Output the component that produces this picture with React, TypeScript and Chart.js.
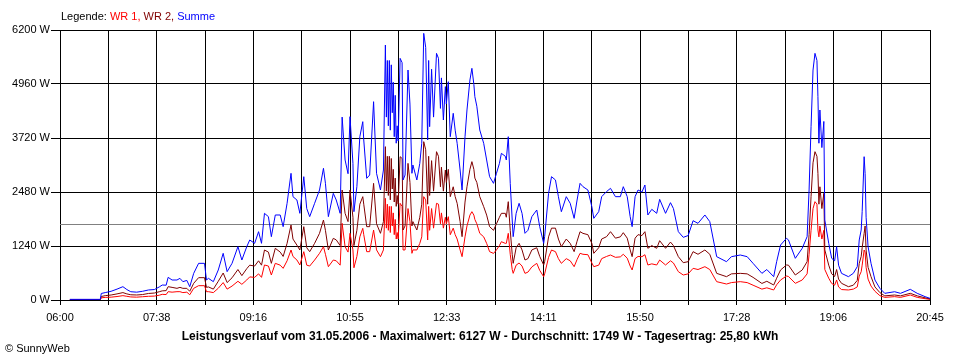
import React, { useEffect, useRef } from "react";
import { Chart, registerables } from "chart.js";

Chart.register(...registerables);

// minutes after 06:00
const sampleMinutes = [
  10, 41, 42, 46, 52, 58, 64, 68, 72, 78,
  84, 90, 96, 101, 104, 108, 110, 114, 119, 122,
  125, 129, 132, 136, 141, 147, 149, 151, 156, 161,
  166, 170, 175, 181, 185, 190, 193, 198, 202, 205,
  208, 212, 215, 219, 224, 227, 231, 235, 237, 241,
  244, 248, 251, 254, 259, 264, 268, 270, 273, 278,
  281, 285, 287, 290, 293, 295, 298, 299, 302, 305,
  308, 309, 312, 315, 319, 322, 326, 329, 331, 332,
  333, 334, 335, 336, 337, 338, 339, 340, 341, 342,
  343, 344, 346, 348, 349, 351, 354, 356, 358, 359,
  363, 366, 368, 370, 372, 374, 375, 376, 378, 380,
  383, 385, 387, 388, 390, 392, 393, 395, 397, 400,
  402, 404, 407, 409, 412, 414, 417, 419, 421, 422,
  424, 427, 431, 434, 437, 441, 444, 447, 449, 453,
  454, 456, 458, 460, 461, 464, 467, 470, 473, 476,
  480, 485, 488, 492, 493, 497, 500, 504, 507, 510,
  515, 519, 523, 526, 529, 532, 537, 541, 543, 548,
  551, 556, 560, 565, 570, 573, 577, 580, 582, 585,
  588, 592, 595, 598, 602, 607, 610, 616, 621, 624,
  629, 634, 639, 644, 649, 656, 661, 668, 678, 683,
  692, 699, 705, 714, 719, 726, 729, 733, 739, 741,
  748, 755, 760, 762, 764, 766, 768, 770, 771, 772,
  773, 775, 777, 778, 782, 785, 788, 790, 792, 795,
  802, 807, 811, 813, 815, 816, 818, 819, 820, 822,
  825, 829, 834, 839, 849, 855, 865, 872, 880, 885,
];

const summeW = [
  15, 15, 150, 170, 200, 250, 306, 240, 190, 180,
  200, 230, 240, 300, 344, 340, 520, 459, 459, 497,
  421, 450, 306, 612, 842, 842, 459, 497, 421, 689,
  1072, 651, 842, 1225, 918, 1225, 1378, 1301, 1569, 1301,
  1990, 1914, 1454, 1952, 1952, 1684, 2220, 2909, 2373, 2296,
  1990, 2832, 2100, 1914, 2220, 2526, 3024, 2680, 1914, 2449,
  2296, 1990, 4200, 3215, 2900, 4210, 3138, 2028, 2602, 3750,
  4095, 3674, 2794, 2870, 4554, 2909, 2526, 2985, 5855, 4200,
  5500, 4000, 5500, 3900, 5400, 4300, 5000, 3750, 4700, 3600,
  4000, 3650, 5549, 5450, 2756, 2870, 5281, 4500, 2909, 3100,
  2756, 3138, 3600, 6123, 5800, 3674, 5500, 3980, 5300, 4200,
  5664, 5550, 4400, 5100, 4133, 4900, 4500, 5013, 3750, 4287,
  3900, 3598, 2985, 2526, 3750, 4363, 5052, 5320, 4950, 4669,
  4450, 3904, 3598, 3215, 2832, 2679, 2909, 3138, 3368, 3300,
  3215, 3750, 2679, 1837, 1454, 1990, 2220, 1990, 1531, 1600,
  1914, 2067, 1684, 1301, 1454, 2449, 2832, 2756, 2373, 2028,
  2373, 2220, 1875, 2296, 2679, 2602, 2526, 2143, 1875, 2028,
  2373, 2490, 2564, 2373, 2373, 2602, 2373, 1914, 1684, 2373,
  2526, 2480, 2641, 1952, 2082, 1990, 2312, 1990, 2235, 2100,
  1569, 1439, 1480, 1821, 1760, 1952, 1800, 995, 880, 995,
  1033, 995, 842, 612, 700, 536, 880, 1263, 1416, 1380,
  957, 1187, 1454, 2526, 3980, 5281, 5664, 5500, 4669, 3600,
  4363, 3500, 4100, 1837, 1301, 957, 900, 1225, 800, 612,
  536, 612, 765, 1378, 1607, 2028, 3291, 2900, 1900, 1225,
  842, 459, 268, 153, 190, 153, 245, 153, 77, 38,
];

const wr2W = [
  8, 8, 80, 100, 115, 140, 170, 140, 120, 115,
  125, 150, 160, 190, 210, 215, 306, 290, 268, 290,
  268, 268, 200, 383, 513, 513, 290, 300, 250, 430,
  620, 400, 510, 700, 560, 720, 800, 780, 900, 800,
  1148, 1100, 842, 1187, 1100, 1000, 1301, 1722, 1400, 1260,
  1148, 1684, 1200, 1110, 1301, 1531, 1837, 1600, 1148, 1416,
  1380, 1250, 2526, 1990, 1800, 2526, 1900, 1250, 1600, 2200,
  2373, 2200, 1684, 1684, 2679, 1750, 1531, 1800, 3521, 2500,
  3300, 2400, 3300, 2300, 3250, 2550, 3000, 2250, 2800, 2150,
  2400, 2200, 3291, 3250, 1607, 1700, 3138, 2700, 1700, 1800,
  1607, 1900, 2200, 3636, 3450, 2200, 3300, 2400, 3200, 2500,
  3406, 3300, 2600, 3050, 2500, 2985, 2700, 3000, 2373, 2600,
  2373, 2220, 1800, 1454, 2250, 2600, 3000, 3177, 3000, 2800,
  2700, 2373, 2143, 1950, 1684, 1600, 1750, 1900, 1990, 1990,
  1900, 2258, 1600, 1050, 842, 1200, 1301, 1150, 918, 950,
  1150, 1200, 1000, 804, 880, 1450, 1650, 1650, 1400, 1225,
  1400, 1300, 1110, 1350, 1569, 1530, 1500, 1300, 1072, 1200,
  1400, 1454, 1569, 1420, 1450, 1546, 1420, 1150, 995, 1420,
  1500, 1480, 1569, 1187, 1250, 1187, 1362, 1187, 1330, 1250,
  995, 857, 880, 1110, 1050, 1148, 1050, 612, 536, 600,
  612, 600, 520, 380, 430, 344, 500, 689, 804, 800,
  574, 689, 880, 1500, 2373, 3150, 3406, 3300, 2909, 2200,
  2600, 2100, 2450, 1150, 800, 600, 540, 700, 480, 383,
  306, 340, 450, 842, 1000, 1200, 1531, 1700, 1150, 750,
  536, 300, 170, 95, 115, 95, 153, 95, 50, 25,
];

const wr1W = [
  5, 5, 50, 60, 65, 80, 100, 85, 70, 65,
  75, 85, 90, 110, 130, 125, 191, 180, 191, 191,
  170, 180, 120, 268, 329, 329, 191, 191, 170, 270,
  400, 250, 320, 430, 360, 460, 530, 520, 600, 520,
  804, 780, 574, 842, 800, 727, 900, 1148, 1000, 918,
  804, 1110, 800, 780, 918, 1072, 1225, 1050, 765, 918,
  900, 800, 1760, 1225, 1100, 1531, 1150, 740, 1000, 1450,
  1646, 1500, 1110, 1110, 1607, 1150, 995, 1150, 2334, 1650,
  2200, 1600, 2150, 1550, 2150, 1700, 2000, 1500, 1850, 1400,
  1550, 1400, 2220, 2150, 1148, 1150, 2100, 1800, 1072, 1150,
  1148, 1300, 1450, 2373, 2300, 1378, 2150, 1600, 2100, 1650,
  2220, 2200, 1750, 2000, 1650, 1900, 1750, 1914, 1500, 1650,
  1500, 1400, 1150, 995, 1450, 1700, 1950, 2028, 1950, 1850,
  1750, 1531, 1450, 1300, 1110, 1070, 1150, 1250, 1339, 1300,
  1300, 1531, 1050, 700, 612, 800, 850, 780, 612, 640,
  760, 842, 680, 536, 600, 980, 1148, 1110, 950, 842,
  950, 900, 765, 930, 1072, 1050, 1040, 850, 765, 800,
  950, 1000, 1033, 980, 990, 1050, 960, 780, 689, 950,
  1000, 995, 1040, 804, 830, 804, 918, 804, 900, 850,
  651, 574, 600, 727, 700, 765, 700, 421, 367, 400,
  421, 400, 340, 250, 280, 230, 350, 459, 551, 540,
  383, 459, 600, 1050, 1600, 2100, 2258, 2200, 1607, 1450,
  1700, 1400, 1600, 700, 500, 380, 340, 460, 300, 240,
  230, 250, 300, 550, 650, 800, 1148, 1100, 750, 480,
  320, 200, 100, 60, 77, 60, 115, 60, 30, 15,
];

const xTickLabels = ["06:00", "07:38", "09:16", "10:55", "12:33", "14:11", "15:50", "17:28", "19:06", "20:45"];
const yMax = 6200;
const yStep = 1240;
const xSpanMinutes = 885;
const averageW = 1749;
const titleText =
  "Leistungsverlauf vom 31.05.2006 - Maximalwert: 6127 W - Durchschnitt: 1749 W - Tagesertrag: 25,80 kWh";
const copyrightText = "\u00A9 SunnyWeb";
const legendParts: [string, string][] = [
  ["Legende: ", "#000000"],
  ["WR 1, ", "#FF0000"],
  ["WR 2, ", "#800000"],
  ["Summe", "#0000FF"],
];

const FONT = '"Liberation Sans", Arial, sans-serif';

const toPoints = (vals: number[]) => vals.map((v, i) => ({ x: sampleMinutes[i], y: v }));

const overlayPlugin = {
  id: "overlay",
  beforeDatasetsDraw(chart: any) {
    const { ctx, chartArea, scales } = chart;
    const y = Math.round(scales.y.getPixelForValue(averageW)) + 0.5;
    ctx.save();
    ctx.strokeStyle = "#808080";
    ctx.lineWidth = 1;
    ctx.beginPath();
    ctx.moveTo(chartArea.left, y);
    ctx.lineTo(chartArea.right, y);
    ctx.stroke();
    ctx.restore();
  },
  afterDraw(chart: any) {
    const { ctx } = chart;
    ctx.save();
    ctx.textBaseline = "middle";
    ctx.font = `11px ${FONT}`;
    let x = 61;
    for (const [text, color] of legendParts) {
      ctx.fillStyle = color;
      ctx.textAlign = "left";
      ctx.fillText(text, x, 17);
      x += ctx.measureText(text).width;
    }
    ctx.fillStyle = "#000";
    ctx.font = `bold 12px ${FONT}`;
    ctx.textAlign = "center";
    ctx.fillText(titleText, 480, 337);
    ctx.font = `11px ${FONT}`;
    ctx.textAlign = "left";
    ctx.fillText(copyrightText, 5, 349);
    ctx.restore();
  },
};

export default function App() {
  const ref = useRef<HTMLCanvasElement | null>(null);

  useEffect(() => {
    document.body.style.margin = "0";
    const canvas = ref.current;
    if (!canvas) return;
    const chart = new Chart(canvas, {
      type: "line",
      data: {
        datasets: [
          {
            label: "Summe",
            data: toPoints(summeW),
            borderColor: "#0000FF",
            borderWidth: 1,
            pointRadius: 0,
            tension: 0,
            order: 0,
          },
          {
            label: "WR 2",
            data: toPoints(wr2W),
            borderColor: "#800000",
            borderWidth: 1,
            pointRadius: 0,
            tension: 0,
            order: 1,
          },
          {
            label: "WR 1",
            data: toPoints(wr1W),
            borderColor: "#FF0000",
            borderWidth: 1,
            pointRadius: 0,
            tension: 0,
            order: 2,
          },
        ],
      },
      options: {
        animation: false,
        responsive: false,
        devicePixelRatio: 1,
        layout: { padding: { top: 30, right: 30, left: 0, bottom: 0 } },
        plugins: {
          legend: { display: false },
          tooltip: { enabled: false },
          title: { display: false },
        },
        scales: {
          x: {
            type: "linear",
            min: 0,
            max: xSpanMinutes,
            afterBuildTicks(scale: any) {
              scale.ticks = Array.from({ length: 19 }, (_, i) => ({ value: (i * xSpanMinutes) / 18 }));
            },
            afterFit(scale: any) {
              scale.height = 60;
            },
            ticks: {
              autoSkip: false,
              maxRotation: 0,
              padding: 6,
              color: "#000",
              font: { family: FONT, size: 11 },
              callback: (_v: any, i: number) => (i % 2 === 0 ? xTickLabels[i / 2] : ""),
            },
            grid: { color: "#000", lineWidth: 1, tickLength: 5 },
            border: { color: "#000" },
          },
          y: {
            min: 0,
            max: yMax,
            afterFit(scale: any) {
              scale.width = 60;
            },
            ticks: {
              stepSize: yStep,
              padding: 1,
              color: "#000",
              font: { family: FONT, size: 11 },
              callback: (v: any) => `${v} W`,
            },
            grid: { color: "#000", lineWidth: 1, tickLength: 9 },
            border: { color: "#000" },
          },
        },
      },
      plugins: [overlayPlugin],
    });
    return () => chart.destroy();
  }, []);

  return (
    <div style={{ width: 960, height: 360, background: "#fff" }}>
      <canvas ref={ref} width={960} height={360} />
    </div>
  );
}
